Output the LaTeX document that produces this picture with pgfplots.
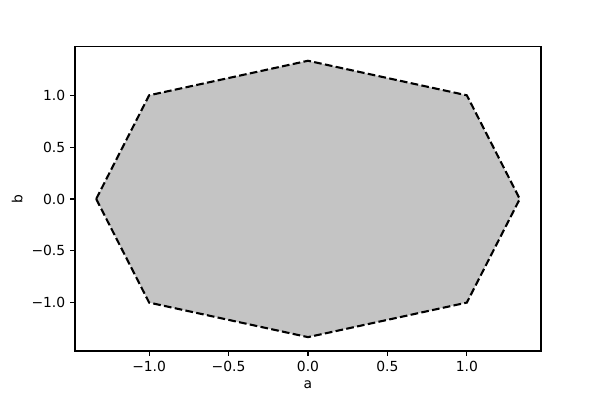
\documentclass[border=0pt]{standalone}
\usepackage{pgfplots}
\pgfplotsset{compat=1.18}
\usepackage{fontspec}
\setmainfont{DejaVu Sans}
\definecolor{fillgrey}{HTML}{C4C4C4}
\begin{document}
\begin{tikzpicture}[font=\fontsize{10}{12}\selectfont]
\begin{axis}[
  scale only axis,
  width=335.5pt, height=218.9pt,
  xmin=-1.4667, xmax=1.4667,
  ymin=-1.4667, ymax=1.4667,
  axis line style={line width=0.8pt},
  tick style={line width=0.8pt, black},
  tick align=outside,
  major tick length=3.5pt,
  xtick pos=bottom, ytick pos=left,
  xtick={-1,-0.5,0,0.5,1},
  ytick={-1,-0.5,0,0.5,1},
  xticklabels={−1.0,−0.5,0.0,0.5,1.0},
  yticklabels={−1.0,−0.5,0.0,0.5,1.0},
  xlabel={a}, ylabel={b},
  xlabel style={yshift=0pt},
  ylabel style={yshift=-0.5pt},
]
\addplot[fill=fillgrey, draw=none] coordinates {
  (-1.3333,0) (-1,1) (0,1.3333) (1,1) (1.3333,0) (1,-1) (0,-1.3333) (-1,-1)
} -- cycle;
\addplot[black, line width=1.5pt, dash pattern=on 5.5pt off 2.4pt, line join=miter] coordinates {
  (-1.3333,0) (-1,1) (0,1.3333) (1,1) (1.3333,0) (1,-1) (0,-1.3333) (-1,-1) (-1.3333,0)
};
\end{axis}
\path ([shift={(-54pt,-35.28pt)}]current axis.south west) rectangle ([shift={(42.5pt,33.8pt)}]current axis.north east);
\end{tikzpicture}
\end{document}
